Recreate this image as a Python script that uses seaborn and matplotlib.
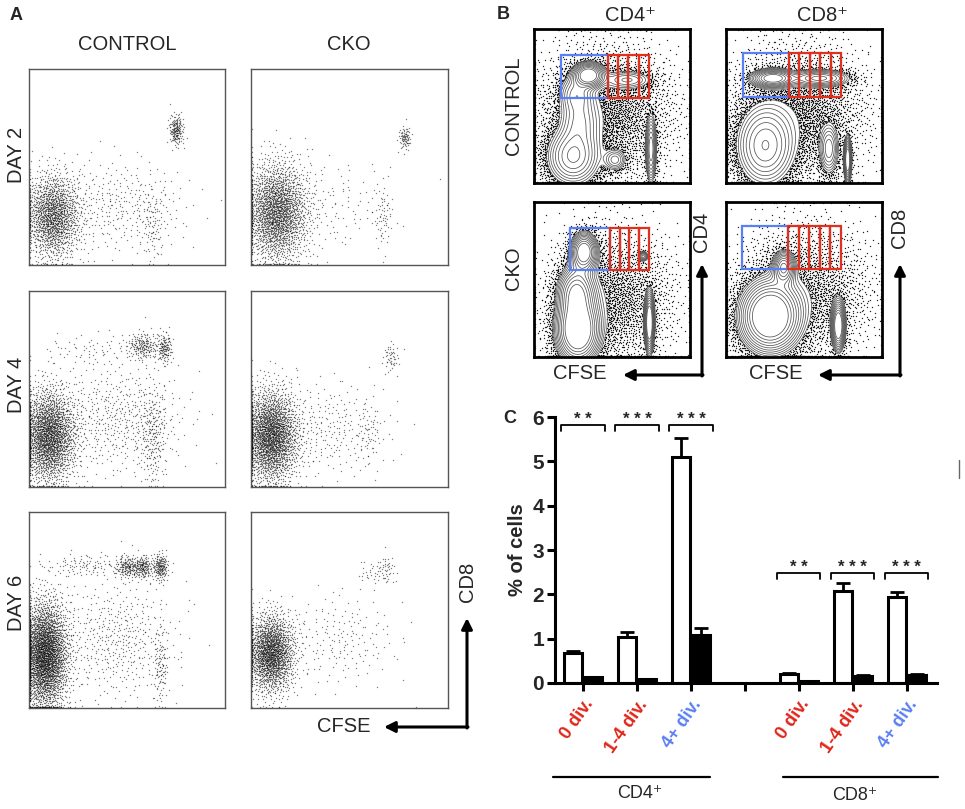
import numpy as np
import pandas as pd
import matplotlib
matplotlib.use("Agg")
import matplotlib.pyplot as plt
import seaborn as sns
from matplotlib.patches import Rectangle
from matplotlib.transforms import ScaledTranslation

W, H = 965, 809

# ---------------- panel C: bar chart values ----------------
categories = ["CD4 0 div.", "CD4 1-4 div.", "CD4 4+ div.", "gap",
              "CD8 0 div.", "CD8 1-4 div.", "CD8 4+ div."]
tick_labels = ["0 div.", "1-4 div.", "4+ div.", "", "0 div.", "1-4 div.", "4+ div."]
tick_colors = ["#e0261b", "#e0261b", "#5b7ff2", "black", "#e0261b", "#e0261b", "#5b7ff2"]
bar_cats = [c for c in categories if c != "gap"]
control_pct = [0.68, 1.04, 5.10, 0.21, 2.08, 1.94]
control_err = [0.05, 0.10, 0.42, 0.02, 0.17, 0.11]
cko_pct = [0.13, 0.08, 1.08, 0.04, 0.15, 0.19]
cko_err = [0.01, 0.01, 0.17, 0.005, 0.02, 0.02]
sig_labels = ["**", "***", "***", "**", "***", "***"]
sig_heights = [5.82, 5.82, 5.82, 2.49, 2.49, 2.49]

# ---------------- panel A: dot plot populations ----------------
# (centre x, centre y, spread x, spread y, events) in fractions of the plot box
a_ctrl_d2 = [(0.12, 0.25, 0.07, 0.11, 1500), (0.75, 0.69, 0.018, 0.04, 170),
             (0.45, 0.30, 0.18, 0.12, 330), (0.63, 0.20, 0.03, 0.10, 80)]
a_cko_d2 = [(0.13, 0.27, 0.08, 0.13, 2100), (0.78, 0.65, 0.015, 0.03, 80),
            (0.67, 0.25, 0.025, 0.08, 60), (0.40, 0.30, 0.17, 0.12, 130)]
a_ctrl_d4 = [(0.10, 0.26, 0.07, 0.12, 2200), (0.58, 0.72, 0.04, 0.035, 180),
             (0.69, 0.71, 0.02, 0.04, 130), (0.33, 0.70, 0.14, 0.04, 70),
             (0.45, 0.35, 0.17, 0.14, 500), (0.63, 0.26, 0.035, 0.13, 200)]
a_cko_d4 = [(0.10, 0.26, 0.07, 0.12, 2300), (0.71, 0.66, 0.02, 0.04, 50),
            (0.40, 0.30, 0.15, 0.12, 250), (0.60, 0.27, 0.03, 0.08, 50)]
a_ctrl_d6 = [(0.08, 0.27, 0.06, 0.14, 3000), (0.50, 0.72, 0.03, 0.03, 160),
             (0.58, 0.72, 0.025, 0.03, 160), (0.67, 0.72, 0.02, 0.035, 170),
             (0.28, 0.73, 0.10, 0.03, 100), (0.45, 0.35, 0.15, 0.15, 450),
             (0.67, 0.21, 0.02, 0.10, 100)]
a_cko_d6 = [(0.10, 0.28, 0.06, 0.10, 1800), (0.69, 0.71, 0.02, 0.04, 40),
            (0.61, 0.69, 0.04, 0.03, 30), (0.45, 0.35, 0.15, 0.12, 180)]
a_rows = ["DAY 2", "DAY 4", "DAY 6"]
a_cols = ["CONTROL", "CKO"]

# ---------------- panel B: contour plot populations ----------------
b_ctrl_cd4 = [(0.35, 0.70, 0.05, 0.04, 2500), (0.27, 0.58, 0.06, 0.07, 1200),
              (0.29, 0.40, 0.07, 0.10, 1800), (0.25, 0.17, 0.09, 0.10, 4500),
              (0.75, 0.22, 0.018, 0.11, 1200), (0.52, 0.15, 0.04, 0.04, 400),
              (0.60, 0.67, 0.09, 0.035, 700), (0.45, 0.45, 0.22, 0.22, 3300)]
b_ctrl_cd8 = [(0.30, 0.68, 0.07, 0.03, 2000), (0.60, 0.68, 0.10, 0.03, 1400),
              (0.25, 0.24, 0.10, 0.14, 6000), (0.66, 0.22, 0.035, 0.09, 1000),
              (0.78, 0.15, 0.012, 0.07, 1000), (0.45, 0.45, 0.22, 0.22, 3200)]
b_cko_cd4 = [(0.28, 0.17, 0.08, 0.12, 5000), (0.27, 0.42, 0.07, 0.10, 2200),
             (0.32, 0.68, 0.05, 0.07, 1500), (0.74, 0.22, 0.018, 0.11, 1000),
             (0.70, 0.65, 0.02, 0.02, 80), (0.50, 0.38, 0.20, 0.22, 2500)]
b_cko_cd8 = [(0.28, 0.26, 0.11, 0.13, 7000), (0.37, 0.58, 0.04, 0.06, 700),
             (0.72, 0.20, 0.025, 0.09, 1000), (0.50, 0.42, 0.22, 0.22, 2400)]
# gates: blue box (x0, x1, y0, y1), red block (x0, x1, number of slices)
b_blue_gates = [(0.173, 0.474, 0.55, 0.83), (0.107, 0.402, 0.56, 0.844),
                (0.231, 0.487, 0.561, 0.832), (0.103, 0.397, 0.568, 0.845)]
b_red_gates = [(0.474, 0.737, 4), (0.402, 0.737, 5), (0.487, 0.737, 4), (0.397, 0.737, 5)]

sns.set_style("white")
plt.rcParams["font.family"] = ["Liberation Sans", "DejaVu Sans"]

fig = plt.figure(figsize=(W / 100, H / 100), dpi=100)


def px_axes(x0, y0, x1, y1):
    return fig.add_axes([x0 / W, 1 - y1 / H, (x1 - x0) / W, (y1 - y0) / H])


def halton(n, base, start):
    i = np.arange(start, start + n, dtype=float)
    out = np.zeros(n)
    f = 1.0
    while (i > 0).any():
        f /= base
        out += f * (i % base)
        i = np.floor(i / base)
    return out


def cluster_points(clusters, lo=0.008, hi=0.992):
    """Deterministic (quasi-random Halton) events for each population."""
    xs, ys = [], []
    start = 1
    for cx, cy, sx, sy, n in clusters:
        u1 = halton(n, 2, start)
        u2 = halton(n, 3, start)
        start += n
        r = np.sqrt(-2 * np.log(u1))
        xs.append(cx + sx * r * np.cos(2 * np.pi * u2))
        ys.append(cy + sy * r * np.sin(2 * np.pi * u2))
    return np.clip(np.concatenate(xs), lo, hi), np.clip(np.concatenate(ys), lo, hi)


def mixture_density(clusters, gx, gy):
    total = sum(c[4] for c in clusters)
    d = np.zeros_like(gx, dtype=float)
    for cx, cy, sx, sy, n in clusters:
        d += (n / total) / (2 * np.pi * sx * sy) * np.exp(
            -0.5 * (((gx - cx) / sx) ** 2 + ((gy - cy) / sy) ** 2))
    return d


def box_style(ax, color, lw):
    ax.set_xlim(0, 1)
    ax.set_ylim(0, 1)
    ax.set_xticks([])
    ax.set_yticks([])
    for s in ax.spines.values():
        s.set_visible(True)
        s.set_color(color)
        s.set_linewidth(lw)


# ---------------- panel A ----------------
a_data = [[a_ctrl_d2, a_cko_d2], [a_ctrl_d4, a_cko_d4], [a_ctrl_d6, a_cko_d6]]
a_xs = [(29, 225), (251, 448)]
a_ys = [(69, 265), (291, 487), (512, 708)]
for r, row in enumerate(a_data):
    for c, clusters in enumerate(row):
        ax = px_axes(a_xs[c][0], a_ys[r][0], a_xs[c][1], a_ys[r][1])
        px, py = cluster_points(clusters, 0.006, 0.994)
        sns.scatterplot(x=px, y=py, s=1.0, color="black", alpha=0.5,
                        linewidth=0, ax=ax)
        box_style(ax, "#555555", 1.0)

# ---------------- panel B ----------------
b_data = [b_ctrl_cd4, b_ctrl_cd8, b_cko_cd4, b_cko_cd8]
b_boxes = [(534, 29, 690, 183), (726, 29, 882, 183),
           (534, 202, 690, 357), (726, 202, 882, 357)]
gx, gy = np.meshgrid(np.linspace(0, 1, 240), np.linspace(0, 1, 240))
for k, clusters in enumerate(b_data):
    ax = px_axes(*b_boxes[k])
    px, py = cluster_points(clusters, 0.006, 0.994)
    low = 0.95
    dens_pts = mixture_density(clusters, px, py)
    keep = dens_pts < low
    sns.scatterplot(x=px[keep], y=py[keep], s=1.0, color="black", alpha=0.85,
                    linewidth=0, ax=ax)
    dens = mixture_density(clusters, gx, gy)
    levels = np.geomspace(low, dens.max() * 0.6, 10)
    ax.contour(gx, gy, dens, levels=levels, colors="#555555", linewidths=0.55)
    bx0, bx1, by0, by1 = b_blue_gates[k]
    ax.add_patch(Rectangle((bx0, by0), bx1 - bx0, by1 - by0, fill=False,
                           edgecolor="#5b7ff5", lw=1.6, zorder=5))
    rx0, rx1, nsl = b_red_gates[k]
    step = (rx1 - rx0) / nsl
    for j in range(nsl):
        ax.add_patch(Rectangle((rx0 + j * step, by0), step, by1 - by0, fill=False,
                               edgecolor="#e0301e", lw=1.6, zorder=5))
    box_style(ax, "black", 2.0)

# ---------------- panel C ----------------
df = pd.DataFrame({
    "category": bar_cats * 2,
    "genotype": ["CONTROL"] * len(bar_cats) + ["CKO"] * len(bar_cats),
    "pct": control_pct + cko_pct,
    "err": control_err + cko_err,
})
axc = px_axes(555, 417, 937, 683)
sns.barplot(data=df, x="category", y="pct", hue="genotype", order=categories,
            hue_order=["CONTROL", "CKO"],
            palette={"CONTROL": "white", "CKO": "black"},
            edgecolor="black", linewidth=2.2, width=0.75, gap=0.12,
            errorbar=None, legend=False, ax=axc)
err_lookup = {(row.category, row.genotype): row.err for row in df.itertuples()}
bars = [b for cont in list(axc.containers) for b in cont]
for bar in bars:
    h = bar.get_height()
    if not np.isfinite(h):
        continue
    xc = bar.get_x() + bar.get_width() / 2
    cat = categories[int(round(xc))]
    geno = "CONTROL" if bar.get_facecolor()[0] > 0.5 else "CKO"
    e = err_lookup[(cat, geno)]
    axc.errorbar(xc, h, yerr=[[0], [e]], fmt="none", ecolor="black",
                 elinewidth=2.0, capsize=5, capthick=2.0, zorder=1)

for lab, h, cat in zip(sig_labels, sig_heights, bar_cats):
    i = categories.index(cat)
    axc.plot([i - 0.4, i - 0.4, i + 0.4, i + 0.4], [h - 0.14, h, h, h - 0.14],
             color="black", lw=1.3, clip_on=False)
    axc.text(i, h + 0.12, " ".join(lab), ha="center", va="center",
             fontsize=12, fontweight="bold", clip_on=False)

axc.set_xlim(-0.52, 6.56)
axc.set_ylim(0, 6)
axc.set_yticks(range(7))
axc.set_yticklabels([str(v) for v in range(7)], fontsize=15, fontweight="bold")
axc.set_xticks(range(len(categories)))
axc.set_xticklabels(tick_labels, rotation=55, ha="right", va="top",
                    rotation_mode="anchor", fontsize=13, fontweight="bold")
for lab, col in zip(axc.get_xticklabels(), tick_colors):
    lab.set_color(col)
    lab.set_transform(lab.get_transform() +
                      ScaledTranslation(12 / 72, -2 / 72, fig.dpi_scale_trans))
axc.set_xlabel("")
axc.set_ylabel("% of cells", fontsize=14.5, fontweight="bold")
axc.yaxis.set_label_coords(-0.072, 0.5)
for s in ["top", "right"]:
    axc.spines[s].set_visible(False)
for s in ["left", "bottom"]:
    axc.spines[s].set_linewidth(2.2)
    axc.spines[s].set_color("black")
axc.tick_params(axis="both", direction="out", length=6, width=2.2, color="black",
                bottom=True, left=True)
axc.tick_params(axis="y", pad=2)
axc.patch.set_alpha(0)

# ---------------- overlay: labels, arrows, group lines ----------------
ov = fig.add_axes([0, 0, 1, 1])
ov.set_xlim(0, W)
ov.set_ylim(H, 0)
ov.axis("off")
ov.patch.set_alpha(0)

ov.text(16, 15, "A", fontsize=13, fontweight="bold", ha="center", va="center")
ov.text(503, 14, "B", fontsize=13, fontweight="bold", ha="center", va="center")
ov.text(510, 418, "C", fontsize=13, fontweight="bold", ha="center", va="center")

for name, xc in zip(a_cols, [127, 349]):
    ov.text(xc, 44, name, fontsize=14.5, ha="center", va="center")
for name, yc in zip(a_rows, [155, 385, 603]):
    ov.text(17, yc, name, fontsize=14.5, ha="center", va="center", rotation=90)

ov.text(630, 15, "CD4⁺", fontsize=14.5, ha="center", va="center")
ov.text(822, 15, "CD8⁺", fontsize=14.5, ha="center", va="center")
ov.text(514, 106, "CONTROL", fontsize=14.5, ha="center", va="center", rotation=90)
ov.text(514, 268, "CKO", fontsize=14.5, ha="center", va="center", rotation=90)

arrow = dict(arrowstyle="-|>", lw=2.2, color="black", mutation_scale=16,
             shrinkA=0, shrinkB=0)
# panel A axis arrows
ov.annotate("", xy=(467, 618), xytext=(467, 728), arrowprops=arrow)
ov.annotate("", xy=(384, 727), xytext=(468, 727), arrowprops=arrow)
ov.text(467, 582, "CD8", fontsize=14.5, ha="center", va="center", rotation=90)
ov.text(344, 727, "CFSE", fontsize=14.5, ha="center", va="center")
# panel B axis arrows
for cx, xend, ylab, ytxt, cfse_x in [(702, 623, "CD4", 232, 580), (900, 818, "CD8", 228, 776)]:
    ov.annotate("", xy=(cx, 264), xytext=(cx, 376), arrowprops=arrow)
    ov.annotate("", xy=(xend, 375), xytext=(cx + 1, 375), arrowprops=arrow)
    ov.text(cx, ytxt, ylab, fontsize=14.5, ha="center", va="center", rotation=90)
    ov.text(cfse_x, 373, "CFSE", fontsize=14.5, ha="center", va="center")

# panel C group bars
ov.plot([553, 710], [777, 777], color="black", lw=1.6)
ov.plot([783, 938], [777, 777], color="black", lw=1.6)
ov.text(640, 793, "CD4⁺", fontsize=13, ha="center", va="center")
ov.text(855, 795, "CD8⁺", fontsize=13, ha="center", va="center")
ov.plot([959, 959], [460, 478], color="#666666", lw=1.0)

fig.savefig("out.png", dpi=100)
